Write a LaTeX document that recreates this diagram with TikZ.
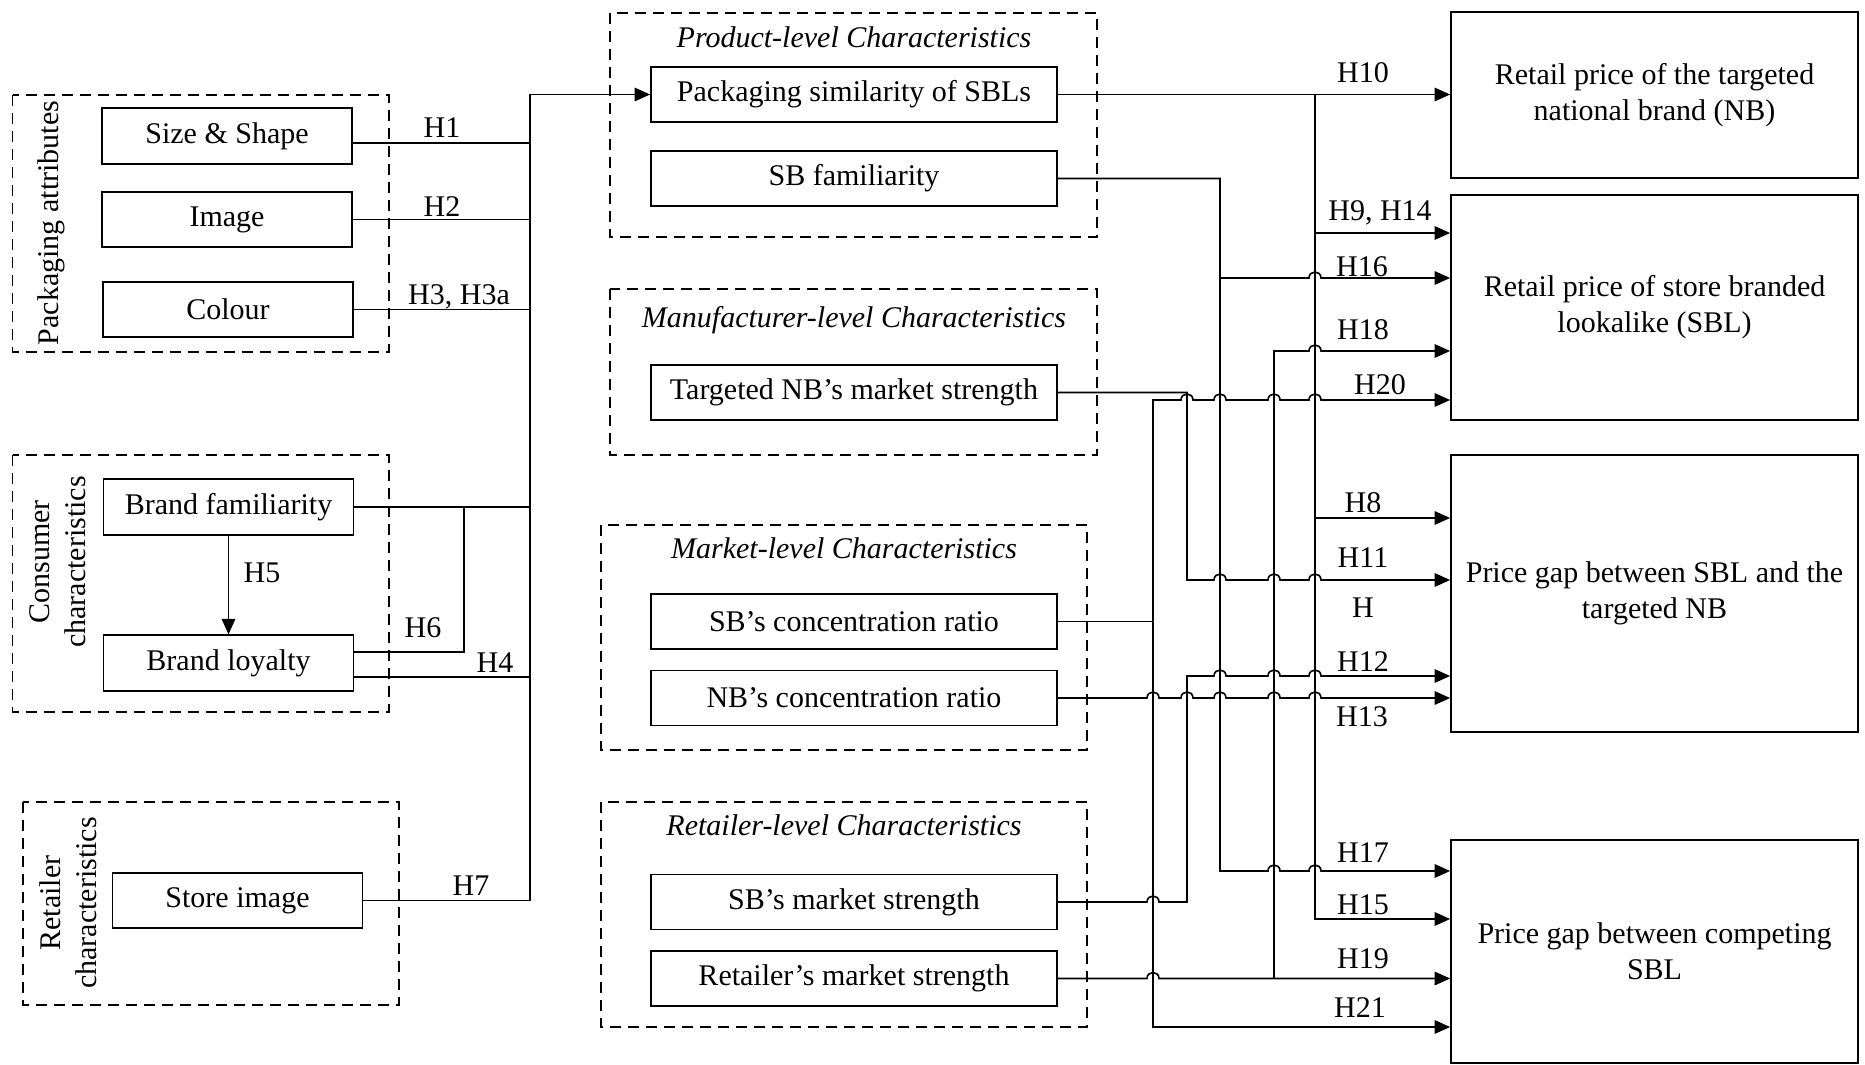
\documentclass[tikz,border=0pt]{standalone}
\usepackage{fontspec}
\setmainfont{Liberation Serif}
\usetikzlibrary{arrows.meta,calc}
\begin{document}
\begin{tikzpicture}[x=0.4pt,y=-0.4pt,
  font=\fontsize{12}{14.4}\selectfont,
  conn/.style={line width=0.65pt},
  arr/.style={conn,-{Triangle[length=6.2pt,width=5.4pt]}},
  box/.style={draw,line width=0.7pt,inner sep=0pt,align=center},
  lbox/.style={box,minimum width=100pt,minimum height=22.2pt},
  mbox/.style={box,minimum width=162.4pt,minimum height=22pt},
  rbox/.style={box,minimum width=162.8pt},
  grp/.style={draw,line width=0.7pt,dash pattern=on 4.4pt off 2.8pt},
  ttl/.style={font=\fontsize{12}{14.4}\selectfont\itshape},
  hl/.style={inner sep=0pt},
  hop/.style args={#1/#2}{insert path={-- ({#1-6},#2) .. controls ({#1-6},{#2-8}) and ({#1+6},{#2-8}) .. ({#1+6},#2)}}
]
\fill[white] (0,0) rectangle (1865,1065);
\useasboundingbox (0,0) rectangle (1865,1065);

% dashed groups
\draw[grp] (12.5,95) rectangle (389,352);
\draw[grp] (12.5,455) rectangle (389,712);
\draw[grp] (23,802) rectangle (399,1005);
\draw[grp] (610,13) rectangle (1097,237);
\draw[grp] (610,289) rectangle (1097,455);
\draw[grp] (601,525) rectangle (1087,750);
\draw[grp] (601,802) rectangle (1087,1027);

% left boxes
\node[lbox] (size) at (227,136) {Size \& Shape};
\node[lbox] (image) at (227,219.5) {Image};
\node[lbox] (colour) at (228,309.5) {Colour};
\node[lbox] (bf) at (228.5,507) {Brand familiarity};
\node[lbox] (bl) at (228.5,663) {Brand loyalty};
\node[lbox] (store) at (237.5,900.5) {Store image};

\node[rotate=90] (lpack) at (51,223) {Packaging attributes};
\node[rotate=90,align=center] (lcons) at (57.5,562) {Consumer\\characteristics};
\node[rotate=90,align=center] (lret) at (68,903) {Retailer\\characteristics};

% middle
\node[ttl] (tprod) at (854,37) {Product-level Characteristics};
\node[mbox] (psim) at (854,94.5) {Packaging similarity of SBLs};
\node[mbox] (sbfam) at (854,178.5) {SB familiarity};
\node[ttl] (tmanu) at (854,320) {Manufacturer-level Characteristics};
\node[mbox] (tnb) at (854,392.5) {Targeted NB’s market strength};
\node[ttl] (tmark) at (844,548) {Market-level Characteristics};
\node[mbox] (sbcr) at (854,621.5) {SB’s concentration ratio};
\node[mbox] (nbcr) at (854,698) {NB’s concentration ratio};
\node[ttl] (tretl) at (844,825) {Retailer-level Characteristics};
\node[mbox] (sbms) at (854,902) {SB’s market strength};
\node[mbox] (rms) at (854,978.5) {Retailer’s market strength};

% right
\node[rbox,minimum height=66.4pt] (nbp) at (1654.5,95) {Retail price of the targeted\\national brand (NB)};
\node[rbox,minimum height=90pt] (sblp) at (1654.5,307.5) {Retail price of store branded\\lookalike (SBL)};
\node[rbox,minimum height=110.8pt] (gapnb) at (1654.5,593.5) {Price gap between SBL and the\\targeted NB};
\node[rbox,minimum height=89.2pt] (gapc) at (1654.5,951.5) {Price gap between competing\\SBL};

% left connectors
\coordinate (busTop) at (530,94.5);
\coordinate (s1) at ($(size.east)+(0,7)$);
\coordinate (bl6) at ($(bl.east)+(0,-11)$);
\coordinate (bl4) at ($(bl.east)+(0,14)$);
\coordinate (x6) at (464,0);
\draw[arr] (store.east) -- (store.east -| busTop) -- (busTop) -- (psim.west);
\draw[conn] (s1) -- (s1 -| busTop);
\draw[conn] (image.east) -- (image.east -| busTop);
\draw[conn] (colour.east) -- (colour.east -| busTop);
\draw[conn] (bf.east) -- (bf.east -| busTop);
\draw[conn] (bl6) -- (bl6 -| x6) -- (bf.east -| x6);
\draw[conn] (bl4) -- (bl4 -| busTop);
\draw[arr] (bf.south) -- (bl.north);

\node[hl] (lH1) at (442,128) {H1};
\node[hl] (lH2) at (442,207) {H2};
\node[hl] (lH3) at (459,297) {H3, H3a};
\node[hl] (lH5) at (262,573) {H5};
\node[hl] (lH6) at (423,628) {H6};
\node[hl] (lH4) at (495,663) {H4};
\node[hl] (lH7) at (471,886) {H7};

% right connectors
\coordinate (T) at (1315,94.5);
\draw[arr] (psim.east) -- (psim.east -| nbp.west);
\draw[arr] (T) -- (1315,919) -- (gapc.west |- 0,919);
\draw[arr] (1315,233) -- (sblp.west |- 0,233);
\draw[arr] (1315,518) -- (gapnb.west |- 0,518);

\draw[arr] (sbfam.east) -- (1220,178.5) -- (1220,871) [hop=1274/871] [hop=1315/871] -- (gapc.west |- 0,871);
\draw[arr] (1220,278) [hop=1315/278] -- (sblp.west |- 0,278);

\draw[arr] (tnb.east) -- (1187,392.5) -- (1187,580) [hop=1220/580] [hop=1274/580] [hop=1315/580] -- (gapnb.west |- 0,580);

\draw[conn] (sbcr.east) -- (1153,621.5);
\draw[arr] (1153,621.5) -- (1153,400) [hop=1187/400] [hop=1220/400] [hop=1274/400] [hop=1315/400] -- (sblp.west |- 0,400);
\draw[arr] (1153,621.5) -- (1153,1027) -- (gapc.west |- 0,1027);

\draw[arr] (nbcr.east) [hop=1153/698] [hop=1187/698] [hop=1220/698] [hop=1274/698] [hop=1315/698] -- (gapnb.west |- 0,698);

\draw[arr] (sbms.east) [hop=1153/902] -- (1187,902) -- (1187,676) [hop=1220/676] [hop=1274/676] [hop=1315/676] -- (gapnb.west |- 0,676);

\draw[arr] (rms.east) [hop=1153/978.5] -- (gapc.west |- 0,978.5);
\draw[arr] (1274,978.5) -- (1274,351) [hop=1315/351] -- (sblp.west |- 0,351);

\node[hl] (rH10) at (1363,73) {H10};
\node[hl] (rH9) at (1380,213) {H9, H14};
\node[hl] (rH16) at (1362,267) {H16};
\node[hl] (rH18) at (1363,330) {H18};
\node[hl] (rH20) at (1380,385) {H20};
\node[hl] (rH8) at (1363,503) {H8};
\node[hl] (rH11) at (1363,558) {H11};
\node[hl] (rH) at (1363,608) {H};
\node[hl] (rH12) at (1363,662) {H12};
\node[hl] (rH13) at (1362,717) {H13};
\node[hl] (rH17) at (1363,853) {H17};
\node[hl] (rH15) at (1363,905) {H15};
\node[hl] (rH19) at (1363,959) {H19};
\node[hl] (rH21) at (1360,1008) {H21};
\end{tikzpicture}
\end{document}
